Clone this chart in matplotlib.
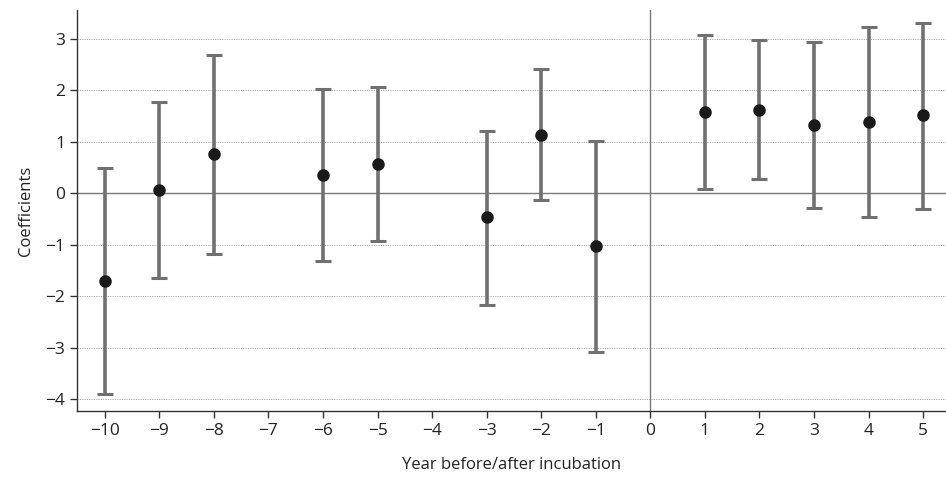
import matplotlib
matplotlib.use("Agg")
import matplotlib.pyplot as plt

plt.rcParams['font.family'] = ['Open Sans', 'DejaVu Sans']

years = [-10, -9, -8, -6, -5, -3, -2, -1, 1, 2, 3, 4, 5]
coef = [-1.70, 0.06, 0.75, 0.35, 0.57, -0.47, 1.13, -1.03, 1.57, 1.62, 1.33, 1.39, 1.51]
lower = [-3.90, -1.65, -1.18, -1.31, -0.92, -2.17, -0.13, -3.08, 0.08, 0.27, -0.29, -0.46, -0.31]
upper = [0.48, 1.77, 2.68, 2.02, 2.06, 1.21, 2.40, 1.01, 3.07, 2.97, 2.94, 3.22, 3.31]
xticks = list(range(-10, 6))
yticks = [-4, -3, -2, -1, 0, 1, 2, 3]

fig = plt.figure(figsize=(9.46, 4.8), dpi=100)
ax = fig.add_axes([0.0814, 0.1437, 0.9186, 0.835])

for y in yticks:
    if y != 0:
        ax.axhline(y, color='#aaaaaa', linestyle=(0, (1.2, 1.2)), linewidth=0.7, zorder=0)
ax.axhline(0, color='#7a7a7a', linewidth=1.0, zorder=1)
ax.axvline(0, color='#7a7a7a', linewidth=1.0, zorder=1)

yerr = [[c - l for c, l in zip(coef, lower)], [u - c for c, u in zip(coef, upper)]]
ax.errorbar(years, coef, yerr=yerr, fmt='o', color='#1a1a1a', markersize=8,
            ecolor='#707070', elinewidth=2.6, capsize=6, capthick=2.2, zorder=3)

ax.set_xlim(-10.51, 5.42)
ax.set_ylim(-4.23, 3.55)
ax.set_xticks(xticks)
ax.set_xticklabels([str(t).replace('-', '\u2212') for t in xticks])
ax.set_yticks(yticks)
ax.set_yticklabels([str(t).replace('-', '\u2212') for t in yticks])
ax.tick_params(axis='both', direction='out', length=5, width=1, color='#333333',
               labelsize=12.5, labelcolor='#222222')
for s in ['top', 'right']:
    ax.spines[s].set_visible(False)
for s in ['left', 'bottom']:
    ax.spines[s].set_color('#333333')
    ax.spines[s].set_linewidth(1.0)

ax.set_xlabel('Year before/after incubation', fontsize=12, color='#222222', labelpad=13)
ax.set_ylabel('Coefficients', fontsize=12, color='#222222', labelpad=8)

fig.savefig('out.png', dpi=100)
